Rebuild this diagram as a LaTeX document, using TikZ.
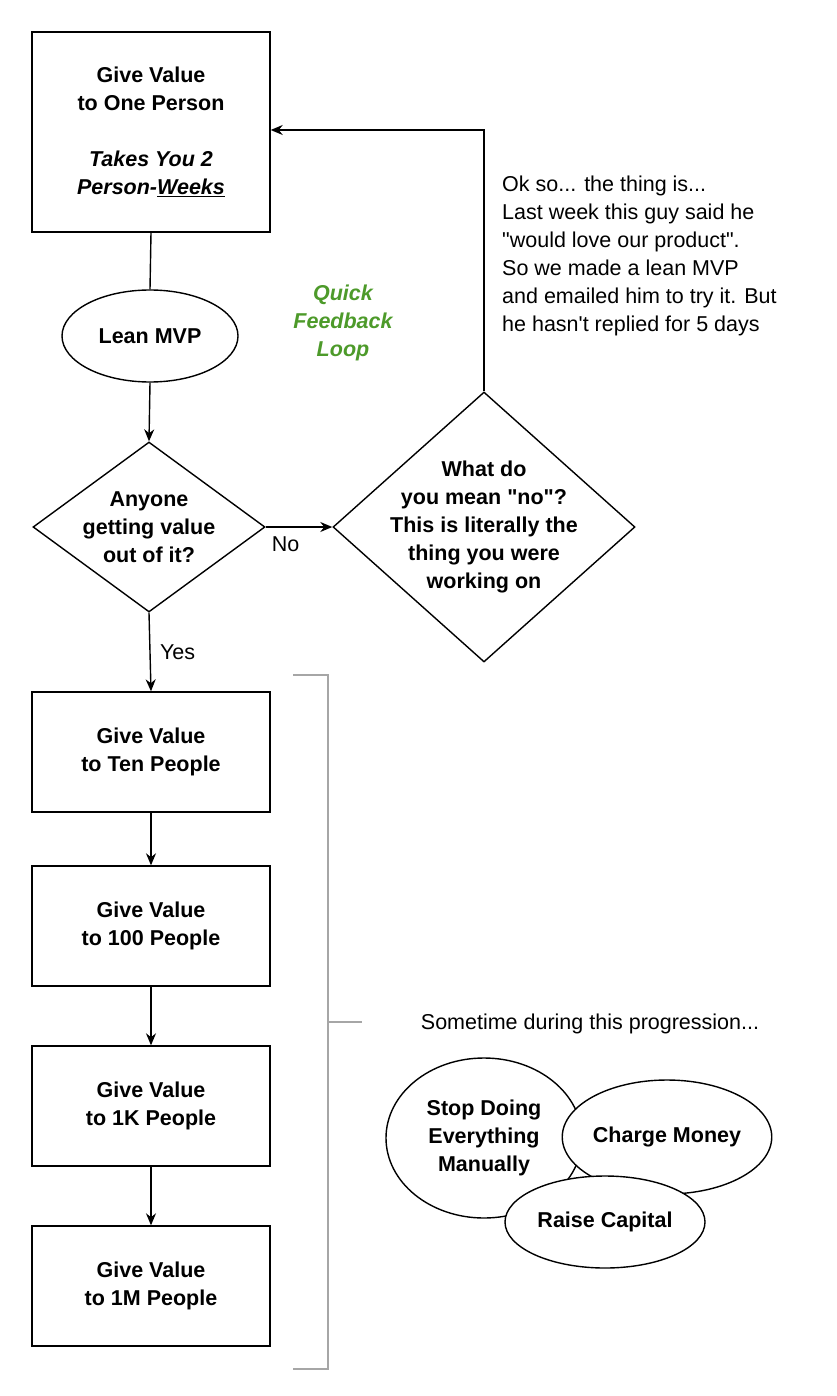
\documentclass[tikz,border=0pt]{standalone}
\usepackage{fontspec}
\defaultfontfeatures[\rmfamily]{}
\defaultfontfeatures{}
\setmainfont{Liberation Sans}
\usetikzlibrary{shapes.geometric,arrows.meta}
\definecolor{qgreen}{HTML}{4D9A2A}
\newcommand{\dq}{\symbol{34}}
\newcommand{\sq}{\symbol{39}}
\begin{document}
\begin{tikzpicture}[x=1pt,y=-1pt,
  every node/.style={font=\fontsize{21.5}{28}\selectfont\bfseries, align=center},
  box/.style={draw, line width=1.4pt, minimum width=238pt, minimum height=120pt, inner sep=0pt},
  ell/.style={draw, ellipse, line width=1.4pt, fill=white, inner sep=0pt},
  dia/.style={draw, diamond, line width=1.4pt, inner sep=0pt},
  arr/.style={-{Stealth[length=12pt,width=10pt]}, line width=1.4pt},
  lbl/.style={font=\fontsize{21.5}{28}\selectfont},
  brk/.style={draw=gray!70, line width=1.4pt}]
\useasboundingbox (0,0) rectangle (836,1396);
\node[box, minimum height=200pt] (b1) at (151,132) {Give Value\\to One Person\\[28pt]\itshape Takes You 2\\\itshape Person-\underline{Weeks}};
\node[ell, minimum width=176pt, minimum height=92pt] (mvp) at (150,336) {Lean MVP};
\node[dia, minimum width=232pt, minimum height=170pt] (d1) at (149,527) {};
\node at (d1) {Anyone\\getting value\\out of it?};
\node[dia, minimum width=302pt, minimum height=270pt] (d2) at (484,527) {};
\node at (d2) {What do\\you mean \dq no\dq ?\\This is literally the\\thing you were\\working on};
\node[lbl, align=left, anchor=north west, inner sep=0pt] (note) at (502,176) {Ok so... the thing is...\\Last week this guy said he\\\dq would love our product\dq .\\So we made a lean MVP\\and emailed him to try it. But\\he hasn\sq t replied for 5 days};
\node[text=qgreen, font=\fontsize{21.5}{28}\selectfont\bfseries\itshape] (qfl) at (343,323) {Quick\\Feedback\\Loop};
\node[box] (b2) at (151,752) {Give Value\\to Ten People};
\node[box] (b3) at (151,926) {Give Value\\to 100 People};
\node[box] (b4) at (151,1106) {Give Value\\to 1K People};
\node[box] (b5) at (151,1286) {Give Value\\to 1M People};
\draw[line width=1.4pt] (b1.south) -- (mvp.north);
\draw[arr] (mvp.south) -- (d1.north);
\draw[arr] (d1.east) -- node[lbl, pos=0.3, below=6pt] {No} (d2.west);
\draw[arr] (d2.north) |- (b1.east |- 0,130);
\draw[arr] (d1.south) -- node[lbl, right=6pt] {Yes} (b2.north);
\draw[arr] (b2) -- (b3);
\draw[arr] (b3) -- (b4);
\draw[arr] (b4) -- (b5);
\coordinate (bt) at (293,675);
\coordinate (bb) at (293,1369);
\coordinate (bm) at (362,1022);
\draw[brk] (bt) -- (328,675) -- (328,1369) -- (bb);
\draw[brk] (328,1022) -- (bm);
\node[lbl] (some) at (590,1024) {Sometime during this progression...};
\node[ell, minimum width=196pt, minimum height=160pt] (stop) at (484,1138) {Stop Doing\\Everything\\Manually};
\node[ell, minimum width=200pt, minimum height=114pt] (charge) at (667,1137) {Charge Money};
\node[ell, minimum width=200pt, minimum height=92pt] (raise) at (605,1222) {Raise Capital};
\end{tikzpicture}
\end{document}
